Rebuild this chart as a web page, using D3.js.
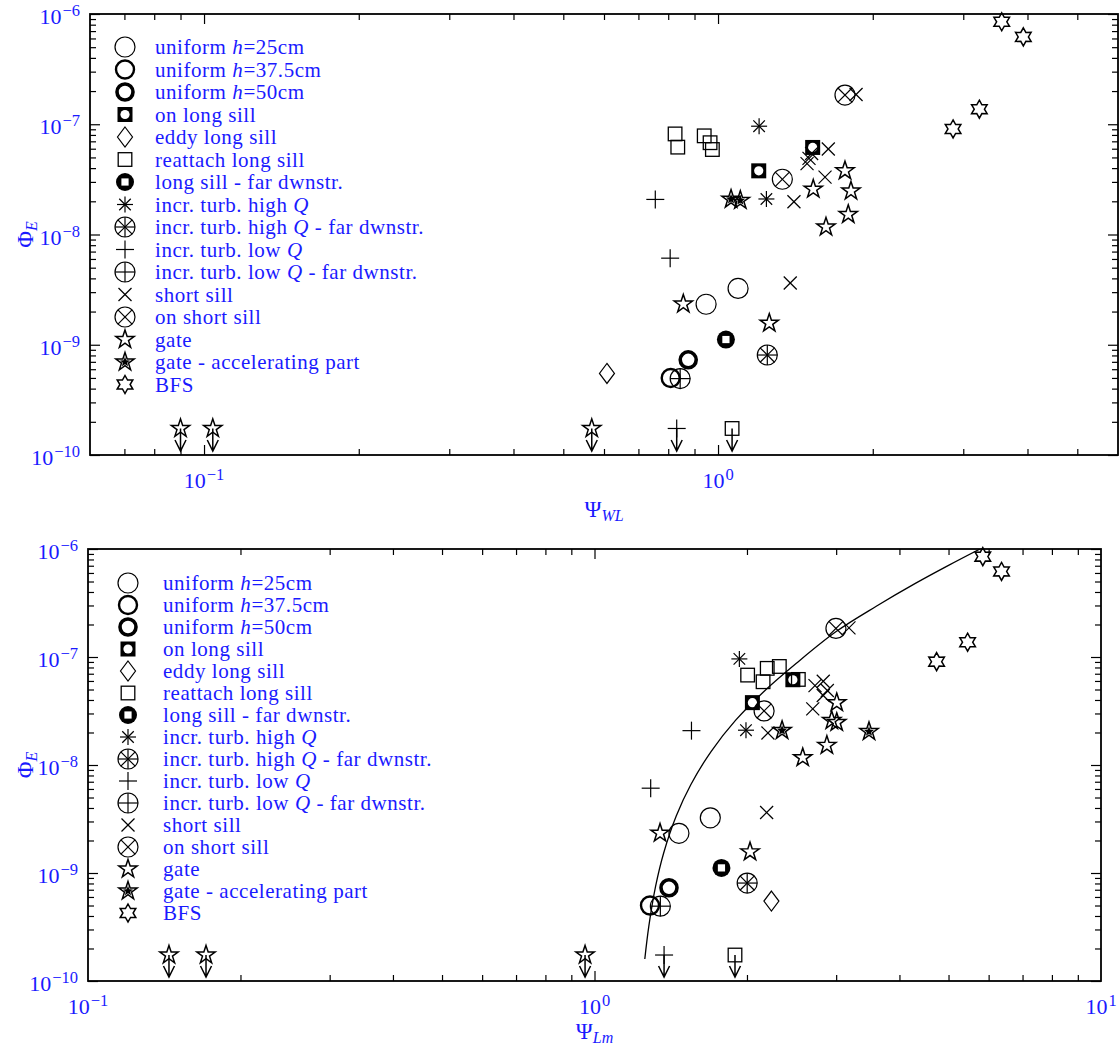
<!DOCTYPE html>
<html>
<head>
<meta charset="utf-8">
<script src="https://cdn.jsdelivr.net/npm/d3@7"></script>
<style>
  body { margin: 0; background: #fff; }
  svg { display: block; }
  text { font-family: "Liberation Serif", "Times New Roman", serif; }
</style>
</head>
<body>
<script>
const W = 1120, H = 1048;

// each point: [Ψ_WL, Ψ_Lm, Φ_E]
const uniform25    = [[0.948, 1.468, 2.33e-9], [1.094, 1.693, 3.24e-9]];
const uniform375   = [[0.809, 1.287, 5.0e-10]];
const uniform50    = [[0.875, 1.403, 7.3e-10]];
const onLongSill   = [[1.200, 2.050, 3.78e-8], [1.528, 2.464, 6.16e-8]];
const eddyLongSill = [[0.608, 2.235, 5.5e-10]];
const reattachSill = [[0.825, 2.317, 8.17e-8], [0.835, 2.526, 6.2e-8], [0.940, 2.193, 7.85e-8],
                      [0.965, 2.006, 6.8e-8], [0.975, 2.152, 5.9e-8]];
const longSillFar  = [[1.036, 1.781, 1.115e-9]];
const highQ        = [[1.202, 1.932, 9.6e-8], [1.242, 1.991, 2.1e-8]];
const highQFar     = [[1.247, 2.002, 8.07e-10]];
const lowQ         = [[0.755, 1.554, 2.08e-8], [0.807, 1.291, 6.1e-9]];
const lowQFar      = [[0.844, 1.349, 4.93e-10]];
const shortSill    = [[1.856, 3.18, 1.86e-7], [1.639, 2.829, 5.96e-8], [1.521, 2.725, 5.43e-8],
                      [1.503, 2.882, 4.9e-8], [1.49, 2.829, 4.4e-8], [1.615, 2.697, 3.31e-8],
                      [1.405, 2.20, 1.98e-8], [1.382, 2.187, 3.63e-9]];
const onShortSill  = [[1.766, 2.997, 1.84e-7], [1.334, 2.162, 3.17e-8]];
const gate         = [[0.856, 1.347, 2.34e-9], [1.258, 2.028, 1.57e-9], [1.766, 3.008, 3.78e-8],
                      [1.532, 2.94, 2.58e-8], [1.814, 3.008, 2.48e-8], [1.792, 2.876, 1.52e-8],
                      [1.622, 2.577, 1.17e-8]];
const gateAccel    = [[1.06, 2.346, 2.09e-8], [1.105, 3.483, 2.04e-8]];
const bfs          = [[3.564, 5.843, 8.5e-7], [3.926, 6.362, 6.2e-7], [3.224, 5.453, 1.37e-7],
                      [2.866, 4.736, 9.06e-8]];

// upper limits (marker drawn with arrow): [marker, Ψ_WL, Ψ_Lm, Φ_E]
const upperLimits = [['star', 0.090, 0.1445, 1.74e-10], ['star', 0.104, 0.171, 1.74e-10],
                     ['star', 0.568, 0.958, 1.74e-10], ['plus', 0.831, 1.372, 1.74e-10],
                     ['square', 1.065, 1.894, 1.74e-10]];

// fitted curve in the Ψ_Lm panel
const fitLm  = [1.257, 1.28, 1.32, 1.37, 1.45, 1.55, 1.7, 1.9, 2.15, 2.5, 3.0, 3.6, 4.3, 5.0, 5.77];
const fitPhi = [1.6e-10, 3.2e-10, 7.5e-10, 1.54e-9, 3.37e-9, 6.6e-9, 1.34e-8, 2.6e-8, 4.7e-8,
                8.7e-8, 1.72e-7, 2.95e-7, 4.8e-7, 7.05e-7, 1.0e-6];

const legendLabels = ['uniform *h*=25cm', 'uniform *h*=37.5cm', 'uniform *h*=50cm', 'on long sill',
  'eddy long sill', 'reattach long sill', 'long sill - far dwnstr.', 'incr. turb. high *Q*',
  'incr. turb. high *Q* - far dwnstr.', 'incr. turb. low *Q*', 'incr. turb. low *Q* - far dwnstr.',
  'short sill', 'on short sill', 'gate', 'gate - accelerating part', 'BFS'];
const markerTypes = ['circ1', 'circ2', 'circ3', 'sqHole', 'diamond', 'square', 'discSq', 'aster',
  'circAster', 'plus', 'circPlus', 'cross', 'circCross', 'star', 'starFill', 'hexa'];
const seriesData = [uniform25, uniform375, uniform50, onLongSill, eddyLongSill, reattachSill,
  longSillFar, highQ, highQFar, lowQ, lowQFar, shortSill, onShortSill, gate, gateAccel, bfs];

const yTicks = [1e-10, 1e-9, 1e-8, 1e-7, 1e-6];

const blue = '#1a1aff';

const svg = d3.select('body').append('svg')
    .attr('width', W)
    .attr('height', H);

function starPath(n, R, r) {
  const pts = d3.range(2 * n).map(i => {
    const a = Math.PI * i / n - Math.PI / 2;
    const rr = i % 2 ? r : R;
    return [rr * Math.cos(a), rr * Math.sin(a)];
  });
  return 'M' + pts.map(p => p[0].toFixed(2) + ',' + p[1].toFixed(2)).join('L') + 'Z';
}

// draws one marker centred on 0,0 of g
function marker(g, type) {
  const line = (x1, y1, x2, y2, w) => g.append('line')
      .attr('x1', x1).attr('y1', y1).attr('x2', x2).attr('y2', y2)
      .attr('stroke', '#000').attr('stroke-width', w || 1.2);
  const circ = (r, w) => g.append('circle').attr('r', r)
      .attr('fill', 'none').attr('stroke', '#000').attr('stroke-width', w);
  const aster = s => {
    line(0, -s, 0, s); line(-s, 0, s, 0);
    line(-s * 0.72, -s * 0.72, s * 0.72, s * 0.72); line(-s * 0.72, s * 0.72, s * 0.72, -s * 0.72);
  };
  switch (type) {
    case 'circ1': circ(10, 1.2); break;
    case 'circ2': circ(9, 2.4); break;
    case 'circ3': circ(8, 3.6); break;
    case 'sqHole':
      g.append('rect').attr('x', -7.5).attr('y', -7.5).attr('width', 15).attr('height', 15).attr('fill', '#000');
      g.append('circle').attr('r', 4.6).attr('fill', '#fff');
      break;
    case 'diamond':
      g.append('path').attr('d', 'M0,-10L7.5,0L0,10L-7.5,0Z')
          .attr('fill', 'none').attr('stroke', '#000').attr('stroke-width', 1.2);
      break;
    case 'square':
      g.append('rect').attr('x', -6.8).attr('y', -6.8).attr('width', 13.6).attr('height', 13.6)
          .attr('fill', 'none').attr('stroke', '#000').attr('stroke-width', 1.3);
      break;
    case 'discSq':
      g.append('circle').attr('r', 9).attr('fill', '#000');
      g.append('rect').attr('x', -3.6).attr('y', -3.6).attr('width', 7.2).attr('height', 7.2).attr('fill', '#fff');
      break;
    case 'aster': aster(8); break;
    case 'circAster': circ(10, 1.2); aster(10); break;
    case 'plus': line(0, -9, 0, 9); line(-9, 0, 9, 0); break;
    case 'circPlus': circ(10, 1.2); line(0, -10, 0, 10); line(-10, 0, 10, 0); break;
    case 'cross': line(-6.5, -6.5, 6.5, 6.5); line(-6.5, 6.5, 6.5, -6.5); break;
    case 'circCross': circ(10, 1.2); line(-7.07, -7.07, 7.07, 7.07); line(-7.07, 7.07, 7.07, -7.07); break;
    case 'star':
      g.append('path').attr('d', starPath(5, 9.6, 3.7))
          .attr('fill', 'none').attr('stroke', '#000').attr('stroke-width', 1.5);
      break;
    case 'starFill':
      g.append('path').attr('d', starPath(5, 9.6, 3.7))
          .attr('fill', 'none').attr('stroke', '#000').attr('stroke-width', 1.5);
      g.append('path').attr('d', starPath(5, 5.2, 2.3)).attr('fill', '#000');
      break;
    case 'hexa':
      g.append('path').attr('d', starPath(6, 9, 5.1))
          .attr('fill', 'none').attr('stroke', '#000').attr('stroke-width', 1.5);
      break;
  }
}

function powLabel(t, e) {
  t.append('tspan').text('10');
  t.append('tspan').attr('font-size', 16.5).attr('dy', -8).attr('dx', 1)
      .text(e < 0 ? '\u2212' + (-e) : e);
}

function richText(t, str) {
  str.split('*').forEach((part, i) => {
    if (!part) return;
    t.append('tspan').attr('font-style', i % 2 ? 'italic' : 'normal').text(part);
  });
}

const panels = [
  { col: 0, left: 90, right: 1118, top: 14, bottom: 455, dom: [0.06, 6], sub: 'WL',
    tickY: 488, nameY: 517, legX: 125, legTx: 155, legY: 47, legDy: 22.5, fit: false },
  { col: 1, left: 88, right: 1101, top: 549, bottom: 981, dom: [0.1, 10], sub: 'Lm',
    tickY: 1014, nameY: 1039, legX: 128, legTx: 163, legY: 583, legDy: 22, fit: true }
];

panels.forEach((p, pi) => {
  const x = d3.scaleLog().domain(p.dom).range([p.left, p.right]);
  const y = d3.scaleLog().domain([1e-10, 1e-6]).range([p.bottom, p.top]);
  const g = svg.append('g');

  const isMajor = v => Math.abs(Math.log10(v) - Math.round(Math.log10(v))) < 1e-9;
  const xAll = x.ticks().filter(v => v > p.dom[0] * 1.001 && v < p.dom[1] * 0.999);
  const xMaj = xAll.filter(isMajor), xMin = xAll.filter(v => !isMajor(v));
  const yAll = y.ticks();
  const yMaj = yAll.filter(isMajor), yMin = yAll.filter(v => !isMajor(v));

  // inward ticks on all four sides
  const addAxis = (axis, tr) => {
    const a = g.append('g').attr('transform', tr).call(axis);
    a.select('.domain').remove();
    a.selectAll('line').attr('stroke', '#000').attr('stroke-width', 1.2);
  };
  [[xMaj, 10], [xMin, 6]].forEach(([vals, len]) => {
    addAxis(d3.axisBottom(x).tickValues(vals).tickSize(-len).tickFormat(''), `translate(0,${p.bottom})`);
    addAxis(d3.axisTop(x).tickValues(vals).tickSize(-len).tickFormat(''), `translate(0,${p.top})`);
  });
  [[yMaj, 10], [yMin, 6]].forEach(([vals, len]) => {
    addAxis(d3.axisLeft(y).tickValues(vals).tickSize(-len).tickFormat(''), `translate(${p.left},0)`);
    addAxis(d3.axisRight(y).tickValues(vals).tickSize(-len).tickFormat(''), `translate(${p.right},0)`);
  });

  g.append('rect')
      .attr('x', p.left).attr('y', p.top)
      .attr('width', p.right - p.left).attr('height', p.bottom - p.top)
      .attr('fill', 'none').attr('stroke', '#000').attr('stroke-width', 1.8);

  // tick labels
  yTicks.forEach(v => {
    const t = g.append('text')
        .attr('x', p.left - 10).attr('y', y(v) + 10)
        .attr('text-anchor', 'end').attr('font-size', 22).attr('fill', blue);
    powLabel(t, Math.round(Math.log10(v)));
  });
  x.ticks().filter(isMajor).forEach(v => {
    const t = g.append('text')
        .attr('x', x(v)).attr('y', p.tickY)
        .attr('text-anchor', 'middle').attr('font-size', 22).attr('fill', blue);
    powLabel(t, Math.round(Math.log10(v)));
  });

  // axis names
  const xn = g.append('text')
      .attr('x', (p.left + p.right) / 2).attr('y', p.nameY)
      .attr('text-anchor', 'middle').attr('font-size', 23).attr('fill', blue);
  xn.append('tspan').text('\u03A8');
  xn.append('tspan').attr('font-size', 16).attr('font-style', 'italic').attr('dy', 4).text(p.sub);

  const yc = (p.top + p.bottom) / 2;
  const yn = g.append('text')
      .attr('transform', `translate(33,${yc}) rotate(-90)`)
      .attr('text-anchor', 'middle').attr('font-size', 23).attr('fill', blue);
  yn.append('tspan').text('\u03A6');
  yn.append('tspan').attr('font-size', 16).attr('font-style', 'italic').attr('dy', 4).text('E');

  // fitted curve
  if (p.fit) {
    const cid = 'clip' + pi;
    svg.append('clipPath').attr('id', cid).append('rect')
        .attr('x', p.left).attr('y', p.top)
        .attr('width', p.right - p.left).attr('height', p.bottom - p.top);
    const line = d3.line()
        .x(i => x(fitLm[i]))
        .y(i => y(fitPhi[i]))
        .curve(d3.curveCatmullRom.alpha(0.5));
    g.append('path')
        .attr('d', line(d3.range(fitLm.length)))
        .attr('clip-path', `url(#${cid})`)
        .attr('fill', 'none').attr('stroke', '#000').attr('stroke-width', 1.3);
  }

  // data points
  seriesData.forEach((pts, si) => {
    pts.forEach(d => {
      const m = g.append('g').attr('transform', `translate(${x(d[p.col])},${y(d[2])})`);
      marker(m, markerTypes[si]);
    });
  });

  // upper limits with arrows
  upperLimits.forEach(d => {
    const px = x(d[1 + p.col]), py = y(d[3]);
    const tip = p.bottom - 4;
    g.append('path')
        .attr('d', `M${px},${py}L${px},${tip}M${px - 5.5},${tip - 11}L${px},${tip}L${px + 5.5},${tip - 11}`)
        .attr('fill', 'none').attr('stroke', '#000').attr('stroke-width', 1.5);
    marker(g.append('g').attr('transform', `translate(${px},${py})`), d[0]);
  });

  // legend
  legendLabels.forEach((lab, i) => {
    const ly = p.legY + i * p.legDy;
    marker(g.append('g').attr('transform', `translate(${p.legX},${ly})`), markerTypes[i]);
    const t = g.append('text')
        .attr('x', p.legTx).attr('y', ly + 7)
        .attr('font-size', 21).attr('letter-spacing', 0.55).attr('fill', blue);
    richText(t, lab);
  });
});
</script>
</body>
</html>
